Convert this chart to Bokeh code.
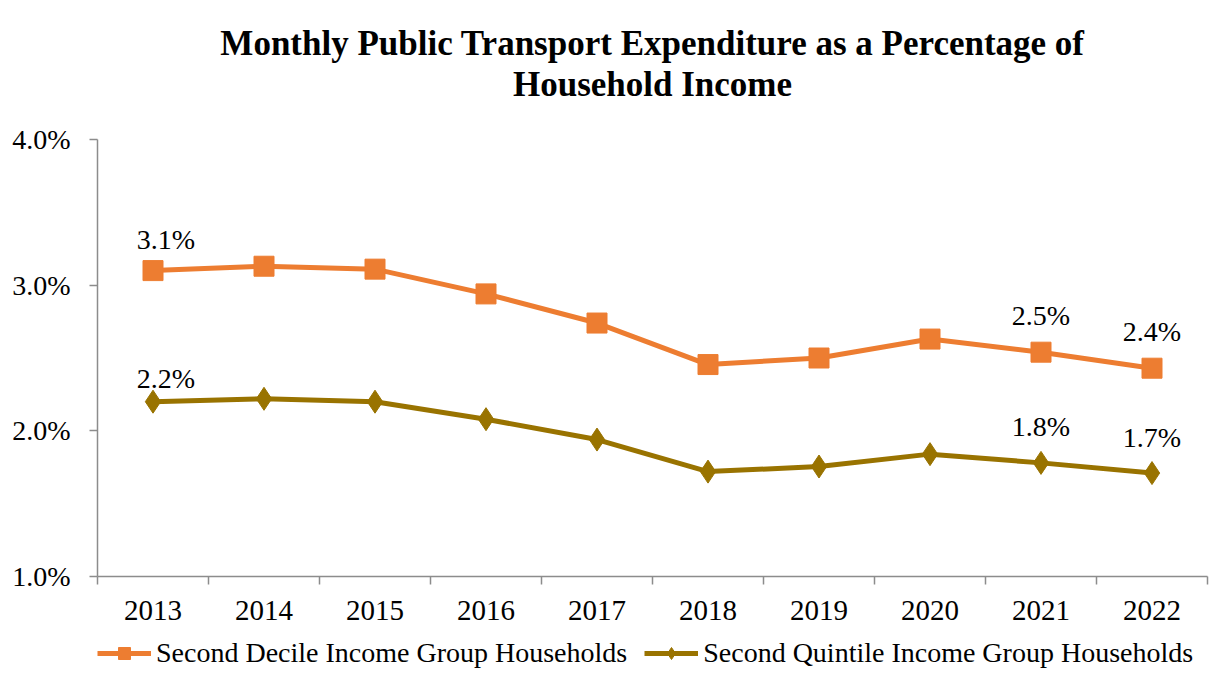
import numpy as np
from bokeh.plotting import figure
from bokeh.layouts import column
from bokeh.models import (Range1d, FixedTicker, PrintfTickFormatter, Legend,
                          LegendItem, Title, ColumnDataSource)
from bokeh.core.properties import value
from bokeh.embed import file_html
from bokeh.resources import INLINE

# ---- data ----
years = ["2013", "2014", "2015", "2016", "2017", "2018", "2019", "2020", "2021", "2022"]
decile = [3.10, 3.13, 3.11, 2.94, 2.74, 2.455, 2.50, 2.63, 2.54, 2.43]
quintile = [2.20, 2.22, 2.20, 2.08, 1.94, 1.72, 1.755, 1.84, 1.78, 1.71]
y_ticks = [1.0, 2.0, 3.0, 4.0]
labelled_years = ["2013", "2021", "2022"]
series_names = ["Second Decile Income Group Households",
                "Second Quintile Income Group Households"]
title_lines = ["Monthly Public Transport Expenditure as a Percentage of",
               "Household Income"]

# ---- styles ----
FONT = "Liberation Serif"
ORANGE = "#ED7D31"
OLIVE = "#997300"
AXIS_GRAY = "#8C8C8C"
label_dx = {"2013": 13, "2021": 0, "2022": 0}
label_dy_dec = {"2013": -31, "2021": -37, "2022": -37}
label_dy_qui = {"2013": -23, "2021": -36, "2022": -36}

centers = [i + 0.5 for i in range(len(years))]
boundaries = list(range(len(years) + 1))

p = figure(width=1211, height=634, title=None,
           x_range=Range1d(0, len(years)), y_range=Range1d(1.0, 4.0),
           output_backend="svg", toolbar_location=None,
           min_border_left=97, min_border_right=4,
           min_border_top=139, min_border_bottom=58)
p.grid.visible = False
p.outline_line_color = None
p.background_fill_color = "white"
p.border_fill_color = "white"

# titles: spacer first (closest to the frame), then line 2, then line 1
t0 = Title(text=" ", text_font=FONT, text_font_size="20px", standoff=12)
t2 = Title(text=title_lines[1], align="center", text_font=FONT,
           text_font_size="35px", text_font_style="bold", text_color="black",
           standoff=0)
t1 = Title(text=title_lines[0], align="center", text_font=FONT,
           text_font_size="35px", text_font_style="bold", text_color="black",
           standoff=0)
p.add_layout(t0, "above")
p.add_layout(t2, "above")
p.add_layout(t1, "above")

# x axis
xa = p.xaxis[0]
xa.ticker = FixedTicker(ticks=centers, minor_ticks=boundaries)
xa.major_label_overrides = {c: y for c, y in zip(centers, years)}
xa.major_tick_out = 0
xa.major_tick_in = 0
xa.minor_tick_out = 8
xa.minor_tick_in = 0
xa.minor_tick_line_color = AXIS_GRAY
xa.axis_line_color = AXIS_GRAY
xa.axis_line_width = 1.5
xa.minor_tick_line_width = 1.5
xa.major_label_text_font = FONT
xa.major_label_text_font_size = "29px"
xa.major_label_text_color = "black"
xa.major_label_standoff = 16

# y axis
ya = p.yaxis[0]
ya.ticker = FixedTicker(ticks=y_ticks, minor_ticks=[])
ya.formatter = PrintfTickFormatter(format="%.1f%%")
ya.major_tick_out = 8
ya.major_tick_in = 0
ya.minor_tick_out = 0
ya.minor_tick_in = 0
ya.major_tick_line_color = AXIS_GRAY
ya.axis_line_color = AXIS_GRAY
ya.axis_line_width = 1.5
ya.major_tick_line_width = 1.5
ya.major_label_text_font = FONT
ya.major_label_text_font_size = "28px"
ya.major_label_text_color = "black"
ya.major_label_standoff = 19

# series
src = ColumnDataSource(dict(x=centers, dec=decile, qui=quintile))
p.line("x", "dec", source=src, line_color=ORANGE, line_width=5)
p.scatter("x", "dec", source=src, marker="square", size=20,
          fill_color=ORANGE, line_color=ORANGE)
p.line("x", "qui", source=src, line_color=OLIVE, line_width=5)
p.scatter("x", "qui", source=src, marker="diamond", size=23,
          fill_color=OLIVE, line_color=OLIVE)

# data labels
idx = [years.index(y) for y in labelled_years]
lab_src = ColumnDataSource(dict(
    x=[centers[i] for i in idx] * 2,
    y=[decile[i] for i in idx] + [quintile[i] for i in idx],
    text=["%.1f%%" % decile[i] for i in idx] + ["%.1f%%" % quintile[i] for i in idx],
    dx=[label_dx[y] for y in labelled_years] * 2,
    dy=[label_dy_dec[y] for y in labelled_years] + [label_dy_qui[y] for y in labelled_years],
))
p.text("x", "y", text="text", source=lab_src, x_offset="dx", y_offset="dy",
       text_font=value(FONT), text_font_size="28px", text_color="black",
       text_align="center", text_baseline="middle")

# legend strip (separate small figure under the chart; its series renderers
# use the same data but fall outside this strip's range, so only the legend shows)
lg = figure(width=1211, height=38, output_backend="svg", toolbar_location=None,
            x_range=Range1d(0, 1), y_range=Range1d(0, 1),
            x_axis_location=None, y_axis_location=None, min_border=0)
lg.grid.visible = False
lg.outline_line_color = None
lg.background_fill_color = "white"
lg.border_fill_color = "white"
k1 = lg.line("x", "dec", source=src, line_color=ORANGE, line_width=5)
s1 = lg.scatter("x", "dec", source=src, marker="square", size=20,
                fill_color=ORANGE, line_color=ORANGE)
k2 = lg.line("x", "qui", source=src, line_color=OLIVE, line_width=5)
s2 = lg.scatter("x", "qui", source=src, marker="diamond", size=23,
                fill_color=OLIVE, line_color=OLIVE)
legend = Legend(items=[LegendItem(label=series_names[0], renderers=[k1, s1]),
                       LegendItem(label=series_names[1], renderers=[k2, s2])],
                orientation="horizontal", location=(0, 3),
                label_text_font=FONT, label_text_font_size="28px",
                label_text_color="black",
                glyph_width=54, glyph_height=30, label_standoff=5,
                spacing=17, padding=0, margin=0,
                border_line_color=None, background_fill_alpha=0)
lg.add_layout(legend, "center")

layout = column(p, lg, spacing=0)
open("out.html", "w").write(file_html(layout, INLINE))
